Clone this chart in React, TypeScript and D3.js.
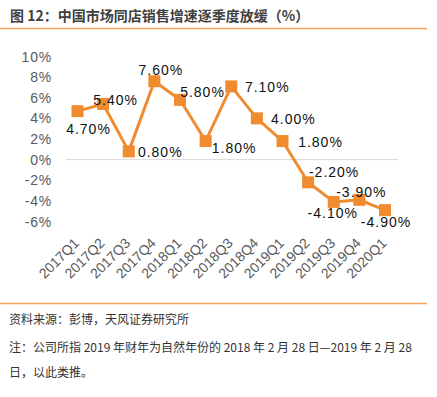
import * as d3 from "d3";
import React, { useEffect, useRef } from "react";

// quarters on the x axis
const quarters = [
  "2017Q1", "2017Q2", "2017Q3", "2017Q4",
  "2018Q1", "2018Q2", "2018Q3", "2018Q4",
  "2019Q1", "2019Q2", "2019Q3", "2019Q4",
  "2020Q1",
];

// same store sales growth, %
const growth = [4.7, 5.4, 0.8, 7.6, 5.8, 1.8, 7.1, 4.0, 1.8, -2.2, -4.1, -3.9, -4.9];

// y axis ticks
const yTicks = [10, 8, 6, 4, 2, 0, -2, -4, -6];

// where each value label sits relative to its marker [dx, dy]
const labelOffsets: [number, number][] = [
  [11, 18], [12.5, -3.5], [31.5, 1], [6.5, -11.5], [22.5, -8], [28.5, 6.5],
  [36, 1], [36.5, 1], [38, 0.5], [26, -10], [-1, 11.5], [2, -8], [1, 11.5],
];

const title = "图 12：中国市场同店销售增速逐季度放缓（%）";
const source = "资料来源：彭博，天风证券研究所";
const noteLines = [
  "注：公司所指 2019 年财年为自然年份的 2018 年 2 月 28 日—2019 年 2 月 28",
  "日，以此类推。",
];

const ORANGE = "#F08B30";
const RULE = "#F5A257";
const LATIN = "'Liberation Sans', Arial, sans-serif";
const CJK = "'Noto Sans CJK SC', sans-serif";

const App: React.FC = () => {
  const ref = useRef<HTMLDivElement>(null);

  useEffect(() => {
    if (!ref.current) return;
    d3.select(ref.current).selectAll("*").remove();

    const width = 437,
      height = 397;

    const svg = d3
      .select(ref.current)
      .append("svg")
      .attr("width", width)
      .attr("height", height)
      .style("position", "absolute")
      .style("left", 0)
      .style("top", 0)
      .style("background", "#fff");

    // header
    svg
      .append("text")
      .attr("x", 10)
      .attr("y", 15)
      .attr("dominant-baseline", "central")
      .style("font-family", CJK)
      .style("font-size", "14px")
      .style("font-weight", "bold")
      .style("fill", "#404040")
      .text(title);

    svg.append("line").attr("x1", 0).attr("x2", 427).attr("y1", 28.5).attr("y2", 28.5)
      .attr("stroke", RULE).attr("stroke-width", 1.5);

    svg.append("line").attr("x1", 0).attr("x2", 427).attr("y1", 303.5).attr("y2", 303.5)
      .attr("stroke", RULE).attr("stroke-width", 1.5);

    // scales
    const x = d3.scalePoint<string>().domain(quarters).range([77.5, 385]);
    const y = d3.scaleLinear().domain([-6, 10]).range([221.5, 56.5]);

    // y tick labels
    svg
      .append("g")
      .selectAll("text")
      .data(yTicks)
      .enter()
      .append("text")
      .attr("x", 52)
      .attr("y", (d) => y(d))
      .attr("text-anchor", "end")
      .attr("dominant-baseline", "central")
      .style("font-family", LATIN)
      .style("font-size", "14px")
      .style("letter-spacing", "0.8px")
      .style("fill", "#595959")
      .text((d) => `${d}%`);

    // zero line
    svg.append("line").attr("x1", 66).attr("x2", 398).attr("y1", y(0)).attr("y2", y(0))
      .attr("stroke", "#d9d9d9").attr("stroke-width", 1);

    // x tick labels, rotated
    svg
      .append("g")
      .selectAll("text")
      .data(quarters)
      .enter()
      .append("text")
      .attr("transform", (d) => `translate(${x(d)! + 2.5},244) rotate(-45)`)
      .attr("text-anchor", "end")
      .style("font-family", LATIN)
      .style("font-size", "14px")
      .style("fill", "#595959")
      .text((d) => d);

    // line
    const line = d3
      .line<number>()
      .x((_, i) => x(quarters[i])!)
      .y((d) => y(d));

    svg
      .append("path")
      .datum(growth)
      .attr("d", line)
      .attr("fill", "none")
      .attr("stroke", ORANGE)
      .attr("stroke-width", 3)
      .attr("stroke-linejoin", "round");

    // square markers
    svg
      .append("g")
      .selectAll("rect")
      .data(growth)
      .enter()
      .append("rect")
      .attr("x", (_, i) => x(quarters[i])! - 6)
      .attr("y", (d) => y(d) - 6)
      .attr("width", 12)
      .attr("height", 12)
      .attr("fill", ORANGE);

    // value labels
    svg
      .append("g")
      .selectAll("text")
      .data(growth)
      .enter()
      .append("text")
      .attr("x", (_, i) => x(quarters[i])! + labelOffsets[i][0])
      .attr("y", (d, i) => y(d) + labelOffsets[i][1])
      .attr("text-anchor", "middle")
      .attr("dominant-baseline", "central")
      .style("font-family", LATIN)
      .style("font-size", "14px")
      .style("letter-spacing", "1px")
      .style("fill", "#111")
      .text((d) => `${d.toFixed(2)}%`);

    // source and note
    svg
      .append("text")
      .attr("x", 9)
      .attr("y", 318)
      .attr("dominant-baseline", "central")
      .style("font-family", CJK)
      .style("font-size", "12px")
      .style("fill", "#333")
      .text(source);

    svg
      .append("g")
      .selectAll("text")
      .data(noteLines)
      .enter()
      .append("text")
      .attr("x", 9)
      .attr("y", (_, i) => 346.5 + i * 24.5)
      .attr("dominant-baseline", "central")
      .style("font-family", CJK)
      .style("font-size", "12px")
      .style("fill", "#333")
      .text((d) => d);
  }, []);

  return <div ref={ref}></div>;
};

export default App;
